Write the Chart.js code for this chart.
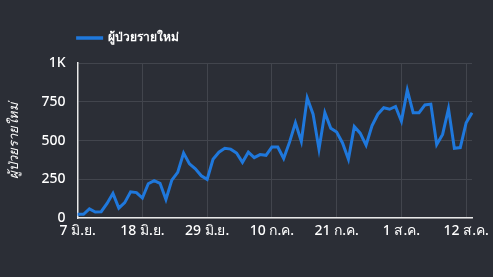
<!DOCTYPE html>
<html>
<head>
<meta charset="utf-8">
<script src="https://cdn.jsdelivr.net/npm/chart.js@4"></script>
<style>
  html, body { margin: 0; padding: 0; background: #2b2e36; }
  #wrap { width: 493px; height: 277px; }
</style>
</head>
<body>
<div id="wrap"><canvas id="myChart"></canvas></div>
<script>
// ข้อมูลผู้ป่วยรายใหม่ 7 มิ.ย. - 13 ส.ค.
const monthNames = ["ม.ค.", "ก.พ.", "มี.ค.", "เม.ย.", "พ.ค.", "มิ.ย.", "ก.ค.", "ส.ค.", "ก.ย.", "ต.ค.", "พ.ย.", "ธ.ค."];
const startMonth = 5; // มิ.ย.
const startDay = 7;
const newCases = [
  25, 25, 60, 40, 42, 95, 160, 65, 100, 170,
  165, 130, 222, 242, 225, 121, 245, 295, 420, 350,
  318, 273, 250, 380, 425, 450, 445, 420, 360, 425,
  390, 410, 405, 458, 458, 385, 490, 615, 495, 775,
  670, 445, 680, 580, 555, 485, 380, 590, 548, 470,
  595, 670, 712, 702, 720, 625, 825, 680, 680, 730,
  735, 475, 540, 705, 450, 455, 615, 680
];
const yTicks = [0, 250, 500, 750, 1000];
const labelEvery = 11;

const dates = newCases.map((v, i) => {
  const d = new Date(2021, startMonth, startDay + i);
  return d.getDate() + " " + monthNames[d.getMonth()];
});

const fontFam = "'Noto Sans', 'Open Sans', sans-serif";
const lineBlue = "#1f78dc";

// legend starts at the plot's left edge, with extra room under it
const legendToPlot = {
  id: "legendToPlot",
  afterInit(chart) {
    const lg = chart.legend;
    const fit = lg.fit;
    lg.fit = function () { fit.call(this); this.height += 9; };
  },
  afterLayout(chart) {
    const lg = chart.legend;
    lg.left = chart.chartArea.left - lg.options.labels.padding;
  }
};

new Chart(document.getElementById("myChart"), {
  type: "line",
  data: {
    labels: dates,
    datasets: [{
      label: "ผู้ป่วยรายใหม่",
      data: newCases,
      borderColor: lineBlue,
      backgroundColor: lineBlue,
      borderWidth: 3,
      pointRadius: 0,
      tension: 0
    }]
  },
  options: {
    responsive: true,
    maintainAspectRatio: false,
    animation: false,
    layout: { padding: { top: 22, right: 14, bottom: 34, left: 2 } },
    plugins: {
      legend: {
        position: "top",
        align: "start",
        labels: {
          color: "#ffffff",
          boxWidth: 24,
          boxHeight: 0.5,
          padding: 10,
          font: { family: fontFam, size: 12, weight: "bold" }
        }
      },
      tooltip: { enabled: false }
    },
    scales: {
      x: {
        grid: { color: "#42454d", drawTicks: false },
        border: { color: "#e8e8e8", width: 1.5 },
        ticks: {
          color: "#ffffff",
          autoSkip: false,
          maxRotation: 0,
          padding: 4,
          font: { family: fontFam, size: 14, weight: 500 },
          callback: (val, i) => (i % labelEvery === 0 ? dates[i] : null)
        }
      },
      y: {
        min: 0,
        max: 1000,
        afterBuildTicks: (axis) => { axis.ticks = yTicks.map(v => ({ value: v })); },
        grid: { color: "#42454d", drawTicks: false },
        border: { color: "#e8e8e8", width: 1.5 },
        title: {
          display: true,
          text: "ผู้ป่วยรายใหม่",
          color: "#ffffff",
          padding: { bottom: 8 },
          font: { family: fontFam, size: 13, style: "italic" }
        },
        ticks: {
          color: "#ffffff",
          padding: 12,
          font: { family: fontFam, size: 14, weight: 500 },
          callback: (v) => (v >= 1000 ? (v / 1000) + "K" : v)
        }
      }
    }
  },
  plugins: [legendToPlot]
});
</script>
</body>
</html>
